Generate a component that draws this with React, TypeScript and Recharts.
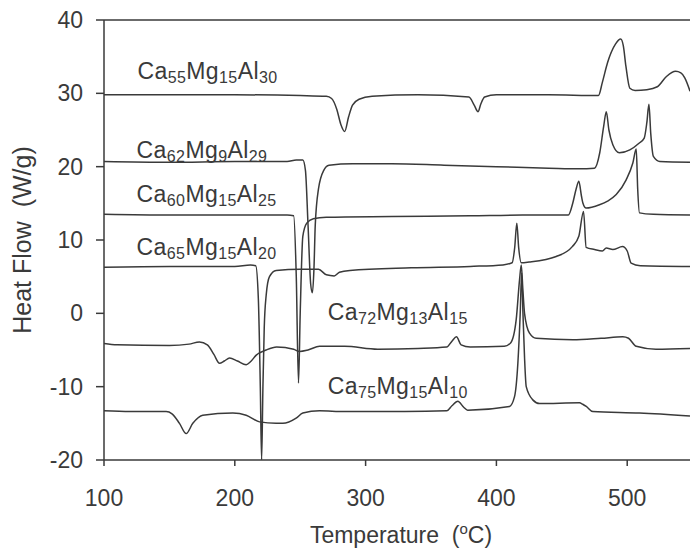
import React from "react";
import {
  LineChart,
  Line,
  XAxis,
  YAxis,
  ReferenceLine,
  ReferenceDot,
} from "recharts";

const INK = "#3a3a3a";
const FONT = "'Liberation Sans', Arial, sans-serif";

const tempTicks = [100, 200, 300, 400, 500];
const flowTicks = [-20, -10, 0, 10, 20, 30, 40];

// Ca55Mg15Al30
const ca55Temp = [100, 150, 200, 250, 270, 274, 278, 281, 284, 287, 290, 295, 305, 340, 379, 383, 386, 388, 391, 400, 440, 478, 481, 485, 491, 495, 497, 499, 502, 506, 515, 523, 530, 537, 541, 544, 548];
const ca55Flow = [29.8, 29.8, 29.8, 29.7, 29.6, 29.3, 27.8, 25.8, 24.8, 26.8, 28.4, 29.2, 29.6, 29.8, 29.5, 28.4, 27.5, 28.5, 29.5, 29.8, 29.8, 29.7, 31.5, 34.2, 36.7, 37.4, 36.5, 33.7, 30.7, 30.4, 30.5, 30.9, 32.3, 33.0, 32.8, 32.1, 30.3];

// Ca62Mg9Al29
const ca62Temp = [100, 150, 200, 240, 247, 252, 254, 256, 258, 259.3, 260.5, 261.5, 264, 268, 272, 290, 320, 360, 400, 440, 463, 475, 479, 482, 484, 486, 489, 494, 502, 509, 513, 515, 516.6, 518, 520, 525, 548];
const ca62Flow = [20.7, 20.6, 20.7, 20.7, 20.9, 20.9, 19.5, 12, 4, 2.8, 6, 12, 17, 19.5, 20.2, 20.4, 20.4, 20.2, 20.0, 19.8, 19.7, 19.8, 21.9, 25.5, 27.5, 25.0, 23.0, 21.9, 22.3, 23.2, 23.9, 26, 28.5, 24.5, 21.4, 20.7, 20.6];

// Ca60Mg15Al25
const ca60Temp = [100, 150, 200, 240, 245, 247, 248.7, 250, 252, 255, 260, 270, 320, 380, 420, 455, 458.4, 461, 463, 465, 466.1, 468.6, 478.8, 485, 491.6, 499.2, 504.3, 506.9, 508, 509.4, 520, 548];
const ca60Flow = [13.5, 13.4, 13.4, 13.4, 13.3, 5, -9.5, 0, 10.5, 12.3, 12.9, 13.1, 13.2, 13.3, 13.4, 13.4, 15.05, 17, 18.0, 16, 15.05, 14.35, 14.8, 15.3, 16.2, 18.2, 20.5, 22.4, 17, 13.7, 13.5, 13.4];

// Ca65Mg15Al20
const ca65Temp = [100, 150, 200, 212, 216, 218, 219.5, 220.5, 221.5, 222.5, 224, 226.5, 231.6, 250, 264, 270, 276, 280, 288, 335, 380, 405, 412, 414, 415.6, 417, 419, 425, 445.7, 458, 463, 466.6, 468.6, 475, 481, 484, 489, 496.4, 500, 503, 510, 548];
const ca65Flow = [6.3, 6.4, 6.4, 6.6, 6.5, 2, -10, -20, -10, -2, 2.5, 5.0, 5.85, 6.0, 6.0, 5.25, 5.1, 5.6, 5.85, 6.2, 6.4, 6.6, 6.9, 9, 12.3, 9, 6.9, 7.0, 7.75, 9.1, 10.5, 13.9, 9.0, 8.7, 8.5, 8.9, 8.7, 9.1, 8.5, 6.85, 6.5, 6.4];

// Ca72Mg13Al15
const ca72Temp = [100, 110, 150, 165, 173, 179, 184, 188.3, 192, 196, 202, 208.7, 212, 216.4, 224, 232, 245, 249.5, 256, 264.8, 283.9, 309.3, 340, 362, 366, 369.5, 373, 380, 406, 411, 415.1, 417.7, 419, 420.3, 421.5, 425.3, 430.4, 458.4, 480, 496.6, 501, 506.9, 522, 548];
const ca72Flow = [-4.1, -4.3, -4.4, -4.2, -3.9, -4.3, -5.6, -6.8, -6.5, -6.1, -6.5, -7.0, -6.6, -5.7, -5.0, -4.6, -4.9, -5.2, -5.0, -4.5, -4.5, -4.9, -4.8, -4.6, -3.8, -3.2, -4.3, -4.6, -4.5, -4.0, -0.9, 4.6, 6.6, 3, 0.0, -2.7, -3.4, -3.6, -3.4, -3.2, -3.4, -4.5, -4.9, -4.8];

// Ca75Mg15Al10
const ca75Temp = [100, 120, 147.5, 152, 157.7, 162.8, 167.9, 175.5, 198.5, 208.7, 218.9, 231.6, 236.7, 246.9, 252, 264.8, 283.9, 330, 362, 366, 370.5, 375, 378, 410, 413.8, 416.4, 418.2, 419.3, 420.3, 421.5, 422.8, 427.8, 433, 463.5, 466, 468.7, 473.7, 509.4, 548];
const ca75Flow = [-13.3, -13.4, -13.4, -13.7, -15.0, -16.4, -15.0, -13.9, -13.6, -13.9, -14.8, -15.0, -15.0, -14.3, -13.6, -13.3, -13.4, -13.4, -13.3, -12.6, -12.0, -12.8, -13.2, -12.7, -11.4, -6.8, 0.0, 5.5, 0, -6, -10.0, -11.8, -12.3, -12.2, -12.4, -12.7, -13.4, -13.6, -14.0];

// curve labels: [element, subscript] pairs, anchored at their left baseline
const labelParts = [
  [["Ca", "55"], ["Mg", "15"], ["Al", "30"]],
  [["Ca", "62"], ["Mg", "9"], ["Al", "29"]],
  [["Ca", "60"], ["Mg", "15"], ["Al", "25"]],
  [["Ca", "65"], ["Mg", "15"], ["Al", "20"]],
  [["Ca", "72"], ["Mg", "13"], ["Al", "15"]],
  [["Ca", "75"], ["Mg", "15"], ["Al", "10"]],
];
const labelTemp = [125.6, 124.9, 124.9, 124.9, 271, 271];
const labelFlow = [32.0, 21.2, 15.25, 8.0, -0.9, -11.0];

const zip = (t: number[], q: number[]) => t.map((v, i) => ({ t: v, q: q[i] }));

const curves = [
  zip(ca55Temp, ca55Flow),
  zip(ca62Temp, ca62Flow),
  zip(ca60Temp, ca60Flow),
  zip(ca65Temp, ca65Flow),
  zip(ca72Temp, ca72Flow),
  zip(ca75Temp, ca75Flow),
];

const formulaLabel = (parts: string[][]) => (props: any) => {
  const vb = props.viewBox || {};
  const x = vb.x + (vb.width || 0) / 2;
  const y = vb.y + (vb.height || 0) / 2;
  return (
    <text x={x} y={y} fontFamily={FONT} fontSize={23} fill={INK} letterSpacing={0.4}>
      {parts.map(([el, n], i) => [
        <tspan key={`e${i}`} dy={i === 0 ? 0 : -4} fontSize={23}>
          {el}
        </tspan>,
        <tspan key={`n${i}`} dy={4} fontSize={16}>
          {n}
        </tspan>,
      ])}
    </text>
  );
};

const xTitle = (props: any) => {
  const vb = props.viewBox;
  return (
    <text
      x={vb.x + vb.width / 2 + 4}
      y={vb.y + 83}
      textAnchor="middle"
      fontFamily={FONT}
      fontSize={23}
      fill={INK}
      style={{ whiteSpace: "pre" }}
    >
      <tspan>Temperature  (</tspan>
      <tspan fontSize={15} dy={-9}>o</tspan>
      <tspan dy={9}>C)</tspan>
    </text>
  );
};

const yTitle = (props: any) => {
  const vb = props.viewBox;
  const cx = vb.x + 22;
  const cy = vb.y + vb.height / 2;
  return (
    <text
      x={cx}
      y={cy}
      transform={`rotate(-90 ${cx} ${cy})`}
      textAnchor="middle"
      dominantBaseline="central"
      fontFamily={FONT}
      fontSize={25}
      fill={INK}
      style={{ whiteSpace: "pre" }}
    >
      Heat Flow  (W/g)
    </text>
  );
};

const App: React.FC = () => {
  const tickStyle = { fontSize: 23, fill: INK, fontFamily: FONT };
  const lineStyle = { stroke: INK, strokeWidth: 1.5 };

  return (
    <div style={{ position: "absolute", left: 0, top: 0, background: "#fff" }}>
      <LineChart
        width={690}
        height={560}
        margin={{ top: 20, right: 0, left: 0, bottom: 10 }}
      >
        <XAxis
          type="number"
          dataKey="t"
          domain={[100, 548]}
          ticks={tempTicks}
          allowDataOverflow
          height={90}
          tickSize={6}
          tickMargin={24}
          tick={tickStyle}
          axisLine={lineStyle}
          tickLine={lineStyle}
          label={xTitle}
        />
        <YAxis
          type="number"
          domain={[-20, 40]}
          ticks={flowTicks}
          allowDataOverflow
          width={104}
          tickSize={8}
          tickMargin={13}
          tick={tickStyle}
          axisLine={lineStyle}
          tickLine={lineStyle}
          label={yTitle}
        />
        <ReferenceLine y={40} stroke={INK} strokeWidth={1.5} />
        {curves.map((d, i) => (
          <Line
            key={i}
            data={d}
            dataKey="q"
            type="monotoneX"
            stroke={INK}
            strokeWidth={1.5}
            dot={false}
            activeDot={false}
            isAnimationActive={false}
          />
        ))}
        {labelParts.map((parts, i) => (
          <ReferenceDot
            key={`lab${i}`}
            x={labelTemp[i]}
            y={labelFlow[i]}
            r={1}
            fill="none"
            stroke="none"
            label={formulaLabel(parts)}
          />
        ))}
      </LineChart>
    </div>
  );
};

export default App;
